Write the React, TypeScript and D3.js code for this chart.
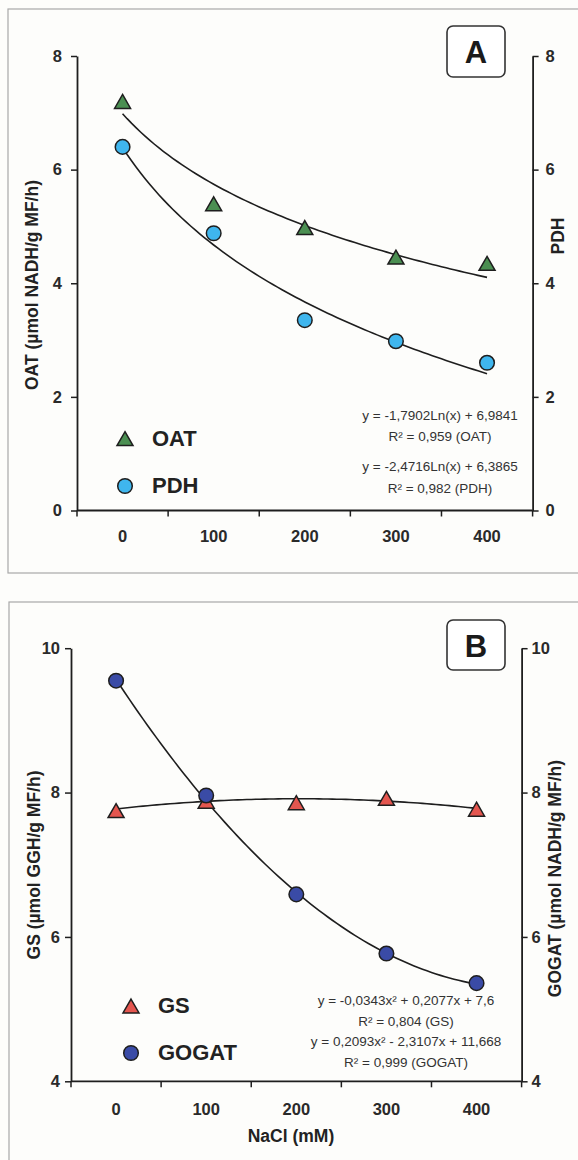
import React, { useRef, useEffect } from 'react';
import { select, scaleBand, scaleLinear, axisLeft, axisRight, line, range } from 'd3';

// NaCl treatments (mM)
const categories = ['0', '100', '200', '300', '400'];

// panel A
const oatValues = [7.2, 5.4, 4.98, 4.46, 4.35];
const pdhValues = [6.4, 4.88, 3.35, 2.98, 2.6];
const oatFit = [-1.7902, 6.9841]; // a*ln(x)+b
const pdhFit = [-2.4716, 6.3865];
const ticksA = [0, 2, 4, 6, 8];

// panel B
const gsValues = [7.75, 7.88, 7.86, 7.92, 7.77];
const gogatValues = [9.55, 7.96, 6.59, 5.77, 5.36];
const gsFit = [-0.0343, 0.2077, 7.6]; // a*x^2+b*x+c
const gogatFit = [0.2093, -2.3107, 11.668];
const ticksB = [4, 6, 8, 10];

const FONT = 'Liberation Sans, Arial, Helvetica, sans-serif';
const INK = '#1e1e1e';

const panelA = {
  frame: [8, 9, 600, 564],
  left: 77, right: 532.6, top: 56, bottom: 510.5,
  yDomain: [0, 8], ticks: ticksA,
  leftPad: 9, rightPad: 7,
  xLabelY: 542,
  letter: 'A', letterBox: [447, 26, 58, 51], letterY: 63,
  leftTitle: { text: 'OAT (µmol NADH/g MF/h)', x: 38, y: 285 },
  rightTitle: { text: 'PDH', x: 564, y: 236 },
  xTitle: null,
  series: [
    { name: 'OAT', values: oatValues, fit: oatFit, kind: 'log', shape: 'tri', fill: '#4b8f52',
      legend: [125, 438.6, 446] },
    { name: 'PDH', values: pdhValues, fit: pdhFit, kind: 'log', shape: 'circle', fill: '#3fb6ee',
      legend: [125, 486, 493] },
  ],
  eqX: 440,
  equations: [
    ['y = -1,7902Ln(x) + 6,9841', 419.5],
    ['R² = 0,959 (OAT)', 441],
    ['y = -2,4716Ln(x) + 6,3865', 471],
    ['R² = 0,982 (PDH)', 492.5],
  ],
};

const panelB = {
  frame: [9, 602, 600, 600],
  left: 71, right: 521.6, top: 648.2, bottom: 1081.3,
  yDomain: [4, 10], ticks: ticksB,
  leftPad: 5, rightPad: 4,
  xLabelY: 1115,
  letter: 'B', letterBox: [447, 620, 58, 50], letterY: 657,
  leftTitle: { text: 'GS (µmol GGH/g MF/h)', x: 40, y: 865 },
  rightTitle: { text: 'GOGAT (µmol NADH/g MF/h)', x: 561, y: 878.6 },
  xTitle: { text: 'NaCl (mM)', x: 291, y: 1142 },
  series: [
    { name: 'GS', values: gsValues, fit: gsFit, kind: 'poly', shape: 'tri', fill: '#e4564f',
      legend: [131, 1006, 1013] },
    { name: 'GOGAT', values: gogatValues, fit: gogatFit, kind: 'poly', shape: 'circle', fill: '#3a4ba6',
      legend: [131, 1053, 1060] },
  ],
  eqX: 406,
  equations: [
    ['y = -0,0343x² + 0,2077x + 7,6', 1005],
    ['R² = 0,804 (GS)', 1025.5],
    ['y = 0,2093x² - 2,3107x + 11,668', 1046],
    ['R² = 0,999 (GOGAT)', 1066.5],
  ],
};

const triPath = (s) => {
  const h = s * 0.87;
  return `M0,${-h / 2}L${s / 2},${h / 2}L${-s / 2},${h / 2}Z`;
};

function Panel({ cfg }) {
  const ref = useRef(null);

  useEffect(() => {
    const g = select(ref.current);
    g.selectAll('*').remove();

    const [fx, fy, fw, fh] = cfg.frame;
    g.append('rect')
      .attr('x', fx).attr('y', fy).attr('width', fw).attr('height', fh)
      .attr('fill', 'none').attr('stroke', '#a8a8a8').attr('stroke-width', 1.2);

    const xScale = scaleBand().domain(categories).range([cfg.left, cfg.right]).padding(0);
    const bw = xScale.bandwidth();
    const xc = (c) => xScale(c) + bw / 2;
    const yScale = scaleLinear().domain(cfg.yDomain).range([cfg.bottom, cfg.top]);

    // y axes
    const styleAxis = (sel) => {
      sel.select('.domain').attr('stroke', INK).attr('stroke-width', 1.8);
      sel.selectAll('.tick line').attr('stroke', INK).attr('stroke-width', 1.5);
      sel.selectAll('.tick text')
        .attr('fill', '#2a2a2a').style('font-family', FONT)
        .style('font-size', '16.5px').style('font-weight', 'bold');
    };
    const fmt = (d) => String(d);
    g.append('g')
      .attr('transform', `translate(${cfg.left},0)`)
      .call(axisLeft(yScale).tickValues(cfg.ticks).tickFormat(fmt).tickSizeInner(6).tickSizeOuter(0).tickPadding(cfg.leftPad))
      .call(styleAxis)
      .attr('font-family', null).attr('font-size', null);
    g.append('g')
      .attr('transform', `translate(${cfg.right},0)`)
      .call(axisRight(yScale).tickValues(cfg.ticks).tickFormat(fmt).tickSizeInner(6).tickSizeOuter(0).tickPadding(cfg.rightPad))
      .call(styleAxis)
      .attr('font-family', null).attr('font-size', null);

    // x axis (category axis, ticks between categories)
    g.append('line')
      .attr('x1', cfg.left).attr('x2', cfg.right)
      .attr('y1', cfg.bottom).attr('y2', cfg.bottom)
      .attr('stroke', INK).attr('stroke-width', 1.8);
    g.selectAll('.xtick')
      .data([...categories.map((c) => xScale(c)), cfg.right])
      .join('line')
      .attr('class', 'xtick')
      .attr('x1', (d) => d).attr('x2', (d) => d)
      .attr('y1', cfg.bottom).attr('y2', cfg.bottom + 6)
      .attr('stroke', INK).attr('stroke-width', 1.5);
    g.selectAll('.xlabel')
      .data(categories)
      .join('text')
      .attr('class', 'xlabel')
      .attr('x', xc).attr('y', cfg.xLabelY)
      .attr('text-anchor', 'middle')
      .attr('fill', '#2a2a2a')
      .style('font-family', FONT).style('font-size', '16.5px').style('font-weight', 'bold')
      .text((d) => d);

    // titles
    const title = (t) => g.append('text')
      .attr('transform', `translate(${t.x},${t.y}) rotate(-90)`)
      .attr('text-anchor', 'middle')
      .attr('fill', '#222')
      .style('font-family', FONT).style('font-size', '17.5px').style('font-weight', 'bold')
      .text(t.text);
    title(cfg.leftTitle);
    title(cfg.rightTitle);
    if (cfg.xTitle) {
      g.append('text')
        .attr('x', cfg.xTitle.x).attr('y', cfg.xTitle.y)
        .attr('text-anchor', 'middle').attr('fill', '#222')
        .style('font-family', FONT).style('font-size', '17.5px').style('font-weight', 'bold')
        .text(cfg.xTitle.text);
    }

    // trend lines
    const tToPx = (t) => xc(categories[0]) + (t - 1) * bw;
    const steps = range(1, 5.0001, 0.05);
    cfg.series.forEach((s) => {
      const f = s.kind === 'log'
        ? (t) => s.fit[0] * Math.log(t) + s.fit[1]
        : (t) => s.fit[0] * t * t + s.fit[1] * t + s.fit[2];
      g.append('path')
        .datum(steps)
        .attr('d', line().x((t) => tToPx(t)).y((t) => yScale(f(t))))
        .attr('fill', 'none').attr('stroke', INK).attr('stroke-width', 1.6);
    });

    // markers
    cfg.series.forEach((s) => {
      const sel = g.selectAll(`.m-${s.name}`)
        .data(s.values)
        .join(s.shape === 'tri' ? 'path' : 'circle')
        .attr('class', `m-${s.name}`)
        .attr('fill', s.fill).attr('stroke', INK).attr('stroke-width', 1.5);
      if (s.shape === 'tri') {
        sel.attr('d', triPath(16))
          .attr('transform', (v, i) => `translate(${xc(categories[i])},${yScale(v)})`);
      } else {
        sel.attr('cx', (v, i) => xc(categories[i])).attr('cy', (v) => yScale(v)).attr('r', 7.3);
      }
    });

    // legend
    cfg.series.forEach((s) => {
      const [lx, ly, tb] = s.legend;
      if (s.shape === 'tri') {
        g.append('path').attr('d', triPath(16))
          .attr('transform', `translate(${lx},${ly})`)
          .attr('fill', s.fill).attr('stroke', INK).attr('stroke-width', 1.5);
      } else {
        g.append('circle').attr('cx', lx).attr('cy', ly).attr('r', 7.3)
          .attr('fill', s.fill).attr('stroke', INK).attr('stroke-width', 1.5);
      }
      g.append('text')
        .attr('x', lx + 27).attr('y', tb)
        .attr('fill', '#222')
        .style('font-family', FONT).style('font-size', '22px').style('font-weight', 'bold')
        .text(s.name);
    });

    // equations
    g.selectAll('.eq')
      .data(cfg.equations)
      .join('text')
      .attr('class', 'eq')
      .attr('x', cfg.eqX).attr('y', (d) => d[1])
      .attr('text-anchor', 'middle')
      .attr('fill', '#333')
      .style('font-family', FONT).style('font-size', '13.5px')
      .text((d) => d[0]);

    // panel letter
    const [bx, by, bw2, bh] = cfg.letterBox;
    g.append('rect')
      .attr('x', bx).attr('y', by).attr('width', bw2).attr('height', bh).attr('rx', 6)
      .attr('fill', 'white').attr('stroke', '#333').attr('stroke-width', 1.6);
    g.append('text')
      .attr('x', bx + bw2 / 2).attr('y', cfg.letterY)
      .attr('text-anchor', 'middle').attr('fill', '#1a1a1a')
      .style('font-family', FONT).style('font-size', '31px').style('font-weight', 'bold')
      .text(cfg.letter);
  }, [cfg]);

  return <g ref={ref} />;
}

export default function App() {
  return (
    <svg
      width={578}
      height={1160}
      style={{ position: 'absolute', left: 0, top: 0, background: '#fdfdfb' }}
    >
      <Panel cfg={panelA} />
      <Panel cfg={panelB} />
    </svg>
  );
}
